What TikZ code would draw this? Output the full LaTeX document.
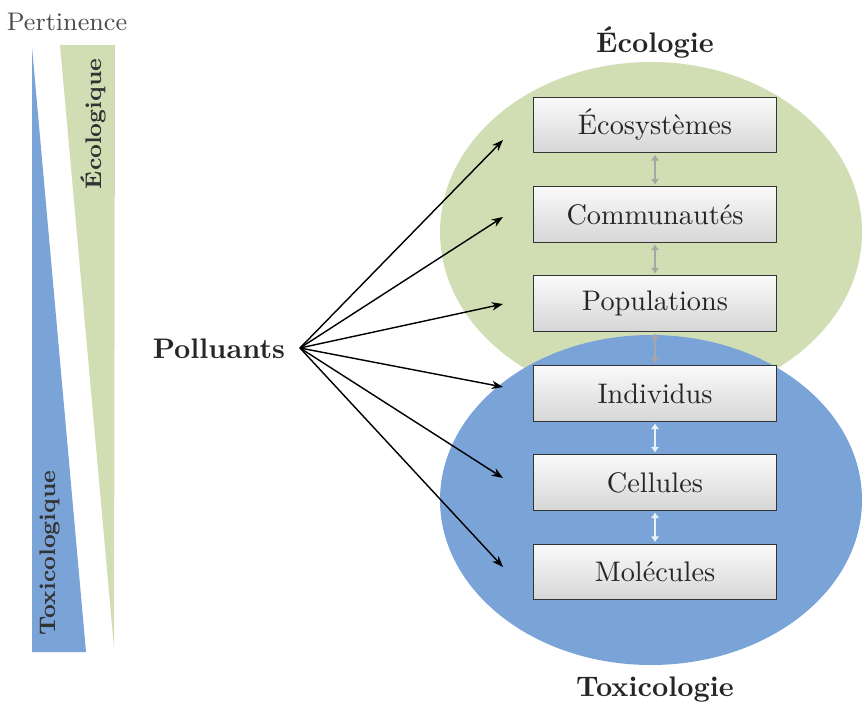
\documentclass[tikz,border=0pt]{standalone}
\usetikzlibrary{arrows.meta,calc}
\definecolor{ecogreen}{RGB}{209,222,180}
\definecolor{toxblue}{RGB}{122,163,216}
\begin{document}
\begin{tikzpicture}[x=0.35336pt,y=-0.35336pt,
  level/.style={draw=black!80, line width=0.5pt, top color=black!2, bottom color=black!16,
    minimum width=85.9pt, minimum height=19.6pt, inner sep=0pt, text=black!85},
  title/.style={font=\bfseries, text=black!85},
  poll/.style={-{Stealth[length=4pt,width=3pt]}, line width=0.5pt},
  updown/.style={{Latex[length=2pt,width=3pt]}-{Latex[length=2pt,width=3pt]}, line width=1pt, shorten <=0.5pt, shorten >=0.5pt},
  side/.style={font=\footnotesize\bfseries, text=black!80, rotate=90}]
\useasboundingbox (0,0) rectangle (862,705);
% relevance wedges
\fill[toxblue] (32,47) -- (32,652) -- (86,652) -- cycle;
\fill[ecogreen] (60,45) -- (115,45) -- (114,648) -- cycle;
\node[font=\small, text=black!70] (pert) at (67,22) {Pertinence};
\node[side] (ecoq) at (93,124) {Écologique};
\node[side] (toxq) at (50,553) {Toxicologique};
% domains
\fill[ecogreen] (651,232) ellipse [x radius=211, y radius=170];
\fill[toxblue] (651,500) ellipse [x radius=211, y radius=165];
\node[title] (ecol) at (655,42) {Écologie};
\node[title] (toxi) at (655,690) {Toxicologie};
% levels
\node[level] (l1) at (655,125) {Écosystèmes};
\node[level] (l2) at (655,214.5) {Communautés};
\node[level] (l3) at (655,303.5) {Populations};
\node[level] (l4) at (655,393.5) {Individus};
\node[level] (l5) at (655,482.5) {Cellules};
\node[level] (l6) at (655,572) {Molécules};
\draw[updown, black!35] (l1) -- (l2);
\draw[updown, black!35] (l2) -- (l3);
\draw[updown, black!35] (l3) -- (l4);
\draw[updown, white!85!toxblue] (l4) -- (l5);
\draw[updown, white!85!toxblue] (l5) -- (l6);
% pollutants
\node[title, anchor=east] (poll) at (295,349) {Polluants};
\coordinate (src) at (300,348);
\coordinate (t1) at (503,140);
\coordinate (t2) at (503,217);
\coordinate (t3) at (503,304);
\coordinate (t4) at (503,387);
\coordinate (t5) at (503,478);
\coordinate (t6) at (503,567);
\foreach \i in {1,...,6} \draw[poll] (src) -- (t\i);
\end{tikzpicture}
\end{document}
